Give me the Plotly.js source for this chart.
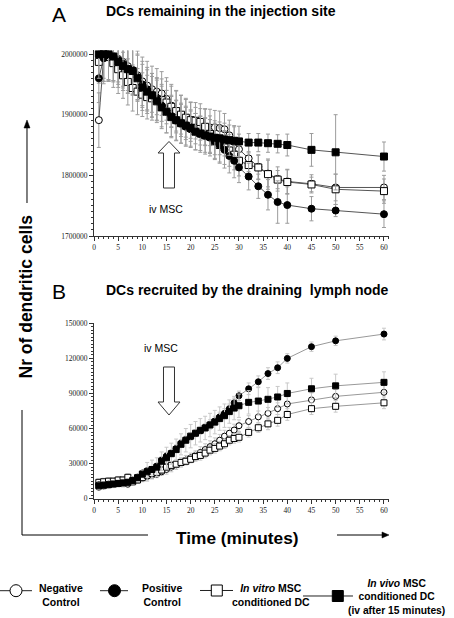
<!DOCTYPE html>
<html><head><meta charset="utf-8">
<script src="https://cdn.plot.ly/plotly-3.0.1.min.js"></script>
<style>html,body{margin:0;padding:0;background:#fff;}#chart{width:454px;height:618px;}</style>
</head><body><div id="chart"></div>
<script>
// Time points (minutes)
const timeMin = [1,2,3,4,5,6,7,8,9,10,11,12,13,14,15,16,17,18,19,20,21,22,23,24,25,26,27,28,29,30,32,34,36,38,40,45,50,60];

// Panel A: DCs remaining in the injection site
const negA   = [1891000,1995000,1998000,1996000,1992000,1987000,1980000,1974000,1965000,1955000,1948000,1942000,1938000,1935000,1926000,1915000,1905000,1898000,1892000,1888000,1882000,1880000,1879000,1879000,1879000,1878000,1876000,1866000,1855000,1843000,1828000,1814000,1803000,1794000,1790000,1786000,1780000,1780000];
const posA   = [1960000,1993000,1998000,1996000,1990000,1984000,1976000,1972000,1962000,1950000,1942000,1932000,1925000,1915000,1905000,1898000,1890000,1885000,1880000,1876000,1872000,1868000,1865000,1862000,1856000,1850000,1842000,1832000,1824000,1813000,1798000,1782000,1768000,1756000,1751000,1745000,1742000,1736000];
const vitroA = [1987000,2000000,1995000,1985000,1975000,1965000,1954000,1944000,1938000,1933000,1929000,1927000,1926000,1924000,1920000,1913000,1906000,1900000,1895000,1891000,1890000,1888000,1880000,1868000,1856000,1850000,1846000,1841000,1834000,1824000,1817000,1813000,1802000,1793000,1789000,1785000,1777000,1774000];
const vivoA  = [2000000,2000000,2000000,1996000,1987000,1980000,1975000,1972000,1960000,1945000,1938000,1932000,1922000,1912000,1905000,1896000,1891000,1886000,1882000,1878000,1872000,1869000,1866000,1864000,1862000,1861000,1859000,1858000,1857000,1856000,1854000,1854000,1853000,1852000,1850000,1842000,1838000,1831000];
const negErrA   = [45000,40000,40000,40000,38000,40000,40000,40000,40000,40000,40000,38000,38000,36000,35000,35000,35000,34000,33000,32000,30000,30000,30000,30000,28000,28000,26000,25000,25000,25000,22000,20000,22000,20000,20000,15000,22000,20000];
const posErrA   = [40000,42000,42000,40000,40000,40000,40000,38000,38000,38000,36000,36000,35000,35000,35000,34000,33000,32000,32000,30000,30000,30000,30000,30000,30000,30000,30000,28000,28000,25000,22000,20000,25000,35000,30000,20000,10000,22000];
const vitroErrA = [35000,40000,40000,40000,40000,38000,38000,38000,38000,36000,36000,36000,35000,35000,35000,34000,33000,32000,32000,30000,30000,30000,30000,30000,28000,28000,28000,26000,25000,25000,20000,20000,25000,15000,20000,12000,25000,20000];
const vivoErrA  = [40000,45000,45000,42000,42000,40000,40000,40000,38000,38000,36000,36000,35000,35000,35000,34000,33000,33000,32000,30000,30000,28000,28000,28000,28000,27000,27000,25000,25000,25000,15000,15000,15000,15000,18000,27000,62000,24000];

// Panel B: DCs recruited by the draining lymph node
const negB   = [10000,11000,12000,13000,13500,13000,12500,14500,16000,17500,19000,20000,21000,23000,25000,27000,29000,31000,33000,35000,37000,39500,42000,44500,47000,50000,53500,56000,58700,62400,66000,70000,73000,77000,81000,84500,87500,91000];
const posB   = [12000,12000,12500,13000,13000,13500,14000,16000,18500,22000,24000,25000,28000,33000,36500,39000,43000,47500,50500,53000,56000,58000,61000,63500,66500,70000,73000,77000,82000,88000,94000,100000,107000,112000,120000,130000,135000,140800];
const vitroB = [14000,14500,15000,15000,16000,16000,18300,14500,16000,18000,20000,21500,22500,24500,27000,28500,29500,31000,32000,33700,36000,37000,39000,41500,43000,45000,47000,50000,51500,52500,56700,60700,64000,67000,72000,77000,79000,82000];
const vivoB  = [11000,11500,12000,12500,13000,13500,14000,15500,18000,21000,23000,25000,27000,32000,35000,38500,42000,46500,50000,53500,56000,58500,60500,63000,65500,68500,71000,74500,77500,79500,82400,83500,85000,87000,90000,94000,96500,99500];
const negErrB   = [3000,3000,3000,3000,3000,3000,3000,3000,3000,3000,3000,3000,3000,3000,4000,4000,4000,4000,4000,4000,4000,5000,5000,5000,5000,5000,5000,5000,5000,5000,5000,5000,5000,5000,6000,6000,6000,6000];
const posErrB   = [2000,2000,2000,2000,2000,2000,2000,2000,2000,2000,2000,2000,2000,3000,3000,3000,3000,3000,3000,3000,3000,3000,3000,4000,4000,4000,4000,4000,4000,4000,5000,5000,5000,5000,4000,4000,4000,5000];
const vitroErrB = [3000,3000,3000,3000,3000,3000,3000,3000,3000,3000,3000,3000,3000,3000,3000,3000,3000,3000,3000,3000,4000,4000,4000,4000,4000,4000,4000,4000,4000,4000,4000,4000,5000,5000,5000,5000,5000,5000];
const vivoErrB  = [3000,3000,3000,3000,3000,3000,3000,3000,3000,3000,8000,8000,8000,8000,9000,9000,9000,9000,10000,10000,10000,10000,10000,10000,10000,10000,10000,10000,10000,10000,10000,12000,10000,9000,9000,9000,10000,9000];

// Legend labels (series names)
const seriesNames = ['Negative<br>Control', 'Positive<br>Control', '<i>In vitro</i> MSC<br>conditioned DC', '<i>In vivo</i> MSC<br>conditioned DC<br>(iv after 15 minutes)'];

const W = 454, H = 618;
const px = x => x / W;
const py = y => 1 - y / H;
function P(pts, close) {
  return 'M' + pts.map(p => px(p[0]).toFixed(5) + ',' + py(p[1]).toFixed(5)).join('L') + (close ? 'Z' : '');
}

function tr(y, err, sym, fill, name, xa, ya, lineCol, errCol, size) {
  return {
    x: timeMin, y: y, type: 'scatter', mode: 'lines+markers',
    xaxis: xa, yaxis: ya, name: name.replace(/<br>/g, ' '), showlegend: false, cliponaxis: true,
    line: {color: lineCol, width: 1},
    marker: {symbol: sym, size: size, color: fill, line: {color: '#000', width: 1}},
    error_y: {type: 'data', array: err, visible: true, color: errCol, thickness: 1, width: 2}
  };
}

const data = [
  tr(negA,   negErrA,   'circle', '#fff', seriesNames[0], 'x', 'y', '#555', '#9c9c9c', 7),
  tr(vitroA, vitroErrA, 'square', '#fff', seriesNames[2], 'x', 'y', '#555', '#9c9c9c', 7),
  tr(posA,   posErrA,   'circle', '#000', seriesNames[1], 'x', 'y', '#555', '#9c9c9c', 7),
  tr(vivoA,  vivoErrA,  'square', '#000', seriesNames[3], 'x', 'y', '#555', '#9c9c9c', 7),
  tr(negB,   negErrB,   'circle', '#fff', seriesNames[0], 'x2', 'y2', '#999', '#c8c8c8', 6),
  tr(vitroB, vitroErrB, 'square', '#fff', seriesNames[2], 'x2', 'y2', '#999', '#c8c8c8', 6),
  tr(posB,   posErrB,   'circle', '#000', seriesNames[1], 'x2', 'y2', '#999', '#c8c8c8', 6),
  tr(vivoB,  vivoErrB,  'square', '#000', seriesNames[3], 'x2', 'y2', '#999', '#c8c8c8', 6)
];

const tickFont = {family: 'Liberation Serif', size: 7.5, color: '#222'};
function xAxis(anchor, dom) {
  return {domain: dom, anchor: anchor, range: [0, 61], tick0: 0, dtick: 5, ticks: 'outside', ticklen: 4,
    tickcolor: '#333', showline: true, linecolor: '#333', linewidth: 1, showgrid: false, zeroline: false,
    tickfont: tickFont, fixedrange: true,
    minor: {dtick: 1, ticks: 'outside', ticklen: 2, tickcolor: '#333', showgrid: false}};
}
function yAxis(anchor, dom, range, dt, t0, mdt) {
  return {domain: dom, anchor: anchor, range: range, tick0: t0, dtick: dt, tickformat: 'd', ticks: 'outside', ticklen: 4,
    tickcolor: '#333', showline: true, linecolor: '#333', linewidth: 1, showgrid: false, zeroline: false,
    tickfont: tickFont, fixedrange: true,
    minor: {dtick: mdt, ticks: 'outside', ticklen: 2, tickcolor: '#333', showgrid: false}};
}

// Legend glyphs (decoration) drawn as shapes in page pixels
const legendGlyphs = [
  {sym: 'circle', fill: '#fff', line: [0, 32], cx: 16, cy: 590.7},
  {sym: 'circle', fill: '#000', line: [100, 128], cx: 114.5, cy: 590.7},
  {sym: 'square', fill: '#fff', line: [200, 233], cx: 216.8, cy: 590.5},
  {sym: 'square', fill: '#000', line: [303, 353], cx: 337.8, cy: 596}
];
const legendText = [
  {x: 60.5, y: 595.3, s: 10.5}, {x: 161.7, y: 595.3, s: 10.5}, {x: 271, y: 595.3, s: 10.5}, {x: 396, y: 597, s: 10.3}
];

const shapes = [
  {type: 'path', xref: 'paper', yref: 'paper', path: P([[169,141.5],[180,153],[174.5,153],[174.5,188],[163.5,188],[163.5,153],[158,153]], true), line: {color: '#333', width: 1}, fillcolor: '#fff'},
  {type: 'path', xref: 'paper', yref: 'paper', path: P([[163.5,367],[174.5,367],[174.5,402],[180,402],[169,415],[158,402],[163.5,402]], true), line: {color: '#333', width: 1}, fillcolor: '#fff'},
  {type: 'path', xref: 'paper', yref: 'paper', path: P([[27,127],[27,203]], false), line: {color: '#000', width: 1}},
  {type: 'path', xref: 'paper', yref: 'paper', path: P([[27,120],[30,128],[24,128]], true), line: {color: '#000', width: 0.5}, fillcolor: '#000'},
  {type: 'path', xref: 'paper', yref: 'paper', path: P([[22,410],[22,535],[148,535]], false), line: {color: '#000', width: 1}},
  {type: 'path', xref: 'paper', yref: 'paper', path: P([[337,535],[383,535]], false), line: {color: '#000', width: 1}},
  {type: 'path', xref: 'paper', yref: 'paper', path: P([[389,535],[382,532],[382,538]], true), line: {color: '#000', width: 0.5}, fillcolor: '#000'}
];
legendGlyphs.forEach(g => {
  shapes.push({type: 'path', xref: 'paper', yref: 'paper', path: P([[g.line[0], g.cy], [g.line[1], g.cy]], false), line: {color: '#222', width: 1}});
  const r = g.sym === 'circle' ? 6 : 5.5;
  shapes.push({type: g.sym === 'circle' ? 'circle' : 'rect', xref: 'paper', yref: 'paper',
    x0: px(g.cx - r), x1: px(g.cx + r), y0: py(g.cy + r), y1: py(g.cy - r),
    fillcolor: g.fill, line: {color: '#000', width: 1}});
});

const annotations = [
  {text: 'A', x: px(59), y: py(14.5), font: {size: 21}},
  {text: '<b>DCs remaining in the injection site</b>', x: px(220.5), y: py(11), font: {size: 14}},
  {text: 'B', x: px(59), y: py(291.5), font: {size: 21}},
  {text: '<b>DCs recruited by the draining\u00a0 lymph node</b>', x: px(247), y: py(290), font: {size: 14}},
  {text: 'iv MSC', x: px(166), y: py(209), font: {size: 10.5}},
  {text: 'iv MSC', x: px(161), y: py(347.5), font: {size: 10.5}},
  {text: '<b>Nr of dendritic cells</b>', x: px(25), y: py(296.5), textangle: -90, font: {size: 17.5}},
  {text: '<b>Time (minutes)</b>', x: px(237.5), y: py(538), font: {size: 17.3}}
].concat(legendText.map((p, i) => ({text: '<b>' + seriesNames[i].replace(/<br>/g, '</b><br><b>') + '</b>', x: px(p.x), y: py(p.y), align: 'center', borderpad: 0, font: {size: p.s}})));
annotations.forEach(a => Object.assign(a, {xref: 'paper', yref: 'paper', showarrow: false, xanchor: 'center', yanchor: 'middle'}));

const layout = {
  width: W, height: H, margin: {l: 0, r: 0, t: 0, b: 0},
  paper_bgcolor: '#fff', plot_bgcolor: 'rgba(0,0,0,0)',
  font: {family: 'Liberation Sans', color: '#000'},
  xaxis: xAxis('y', [px(94), px(388.8)]),
  yaxis: yAxis('x', [py(236), py(50.4)], [1700000, 2006000], 100000, 1700000, 10000),
  xaxis2: xAxis('y2', [px(94), px(388.8)]),
  yaxis2: yAxis('x2', [py(498.7), py(323.3)], [0, 150000], 30000, 0, 3000),
  showlegend: false,
  annotations: annotations,
  shapes: shapes
};

Plotly.newPlot('chart', data, layout, {displayModeBar: false, staticPlot: true});
</script>
</body></html>
